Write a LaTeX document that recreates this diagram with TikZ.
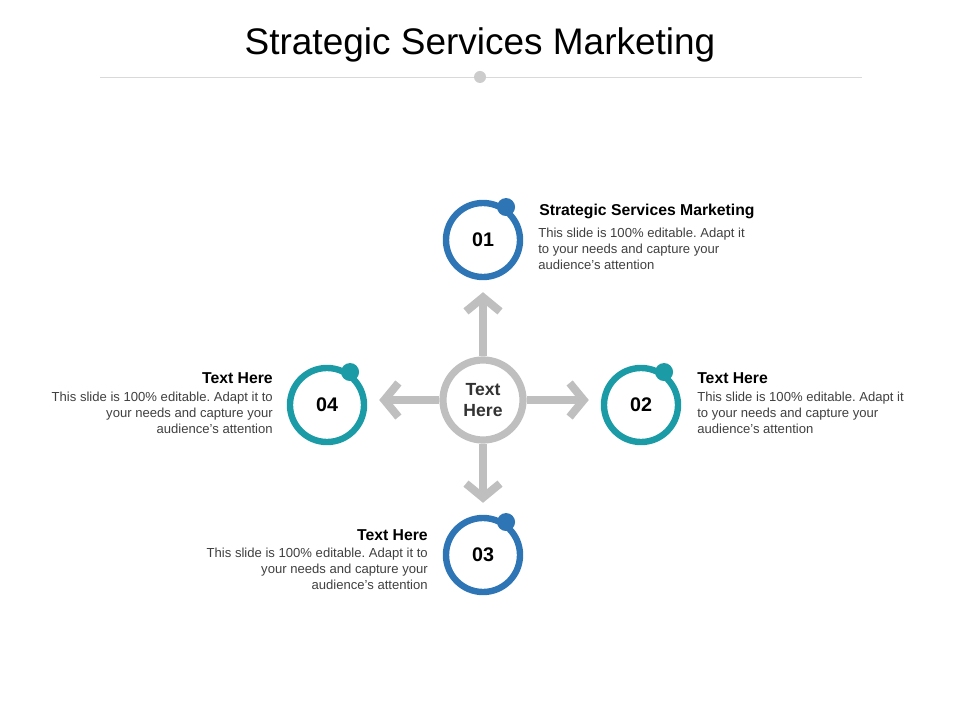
\documentclass[tikz,border=0pt]{standalone}
\usepackage{fontspec}
\setmainfont{Liberation Sans}
\usetikzlibrary{arrows.meta}
\definecolor{stepblue}{HTML}{2E75B6}
\definecolor{stepteal}{HTML}{1A9BA6}
\definecolor{hubgray}{HTML}{BFBFBF}
\tikzset{
  ring/.style={circle, draw=#1, line width=0.16cm, minimum size=1.85cm, font=\bfseries\fontsize{14}{16}\selectfont},
  knob/.style={circle, fill=#1, minimum size=0.45cm, inner sep=0pt},
  spoke/.style={hubgray, line width=0.2cm, -{Straight Barb[length=0.35cm, width=0.85cm]}},
  head/.style={font=\bfseries\fontsize{11.2}{13}\selectfont, inner sep=0pt},
  body/.style={font=\fontsize{9.3}{11.4}\selectfont, inner sep=0pt, text=black!75}
}
\frenchspacing
\begin{document}
\begin{tikzpicture}[x=0.025cm, y=-0.025cm]
    \useasboundingbox (0,0) rectangle (960,720);

    % Title and rule
    \node (title) at (480,45) {\fontsize{26.3}{30}\selectfont Strategic Services Marketing};
    \draw[black!15] (100,77) -- (862,77);
    \node[circle, fill=black!20, minimum size=0.3cm, inner sep=0pt] (dot) at (480,77) {};

    % Hub
    \node[circle, draw=hubgray, line width=0.18cm, minimum size=2cm, align=center,
          font=\bfseries\fontsize{12.5}{14.5}\selectfont, text=black!80] (hub) at (483,400) {Text\\Here};

    % Rings
    \node[ring=stepblue] (s1) at (483,240) {01};
    \node[ring=stepteal] (s2) at (641,405) {02};
    \node[ring=stepblue] (s3) at (483,555) {03};
    \node[ring=stepteal] (s4) at (327,405) {04};
    \node[knob=stepblue] at (s1.55) {};
    \node[knob=stepteal] at (s2.55) {};
    \node[knob=stepblue] at (s3.55) {};
    \node[knob=stepteal] at (s4.55) {};

    % Spokes
    \draw[spoke] (hub.north) -- ([yshift=-0.3cm]s1.south);
    \draw[spoke] (hub.east) -- ([xshift=-0.3cm]s2.west |- hub.east);
    \draw[spoke] (hub.south) -- ([yshift=0.3cm]s3.north);
    \draw[spoke] (hub.west) -- ([xshift=0.3cm]s4.east |- hub.west);

    % Labels
    \node[head, anchor=west] (h1) at (539,211) {Strategic Services Marketing};
    \node[body, anchor=north west, align=left] (b1) at (538,228) {This slide is 100\% editable. Adapt it\\to your needs and capture your\\audience's attention};
    \node[head, anchor=west] (h2) at (697,378) {Text Here};
    \node[body, anchor=north west, align=left] (b2) at (697,392) {This slide is 100\% editable. Adapt it\\to your needs and capture your\\audience's attention};
    \node[head, anchor=east] (h4) at (273,378) {Text Here};
    \node[body, anchor=north east, align=right] (b4) at (273,392) {This slide is 100\% editable. Adapt it to\\your needs and capture your\\audience's attention};
    \node[head, anchor=east] (h3) at (428,535) {Text Here};
    \node[body, anchor=north east, align=right] (b3) at (428,548) {This slide is 100\% editable. Adapt it to\\your needs and capture your\\audience's attention};

\end{tikzpicture}
\end{document}
